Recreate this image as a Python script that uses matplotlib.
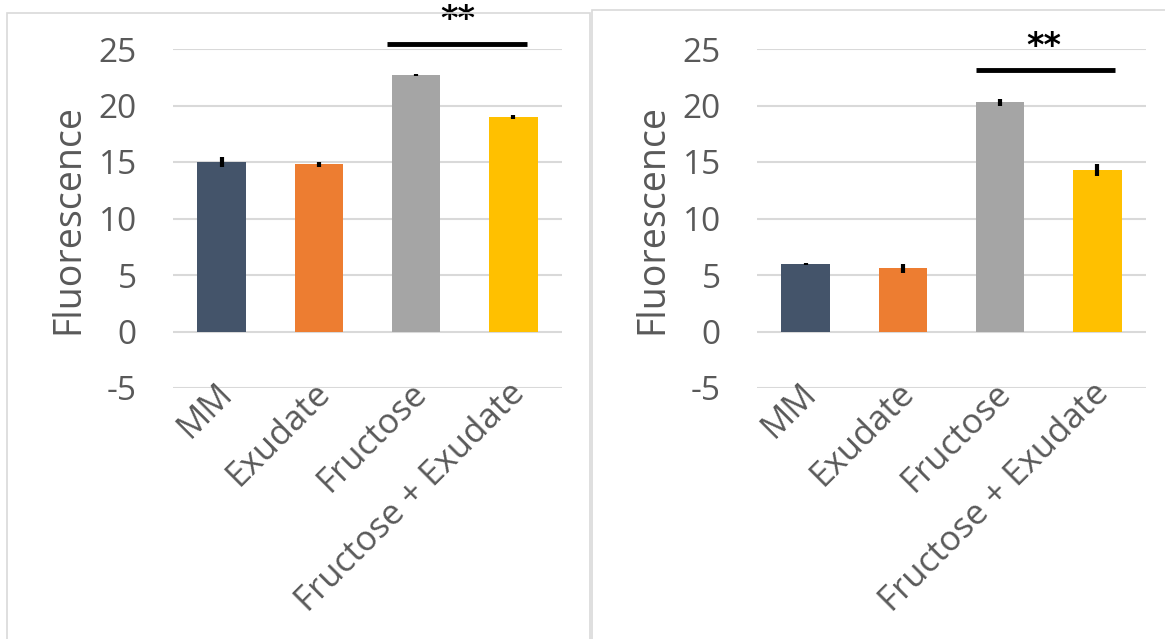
import matplotlib.pyplot as plt
from matplotlib.patches import Rectangle
from matplotlib.transforms import ScaledTranslation

plt.rcParams['font.family'] = ['Open Sans', 'DejaVu Sans']
plt.rcParams['axes.unicode_minus'] = False

categories = ["MM", "Exudate", "Fructose", "Fructose + Exudate"]
colors = ["#44546a", "#ed7d31", "#a5a5a5", "#ffc000"]

left_means = [15.0, 14.8, 22.7, 19.0]
left_err = [0.45, 0.2, 0.08, 0.2]

right_means = [6.0, 5.6, 20.3, 14.3]
right_err = [0.1, 0.4, 0.3, 0.5]

# significance bar: (x start, x end, y), star position (x, y)
left_sig = (1.7, 3.14, 25.4, 2.43, 27.6)
right_sig = (1.75, 3.18, 23.1, 2.45, 25.2)

text_color = "#595959"
grid_color = "#d9d9d9"

fig = plt.figure(figsize=(11.65, 6.39), dpi=100)

# light frames around each chart
fig.patches.append(Rectangle((7 / 1165, -0.1), 583 / 1165, 1.1 - 13 / 639,
                             transform=fig.transFigure, fill=False,
                             edgecolor=grid_color, lw=1.2))
fig.patches.append(Rectangle((592 / 1165, -0.1), 0.6, 1.1 - 10 / 639,
                             transform=fig.transFigure, fill=False,
                             edgecolor=grid_color, lw=1.2))


def draw_panel(rect, means, errs, sig):
    ax = fig.add_axes(rect)
    x = range(len(categories))
    ax.bar(x, means, width=0.5, color=colors, zorder=2)
    ax.errorbar(x, means, yerr=errs, fmt="none", ecolor="black",
                elinewidth=3, capsize=0, zorder=3)
    ax.set_xlim(-0.5, 3.5)
    ax.set_ylim(-5, 25)
    ax.set_yticks([-5, 0, 5, 10, 15, 20, 25])
    for yv in [-5, 0, 5, 10, 15, 20, 25]:
        ax.axhline(yv, color=grid_color, lw=1.5, zorder=1)
    for s in ax.spines.values():
        s.set_visible(False)
    ax.tick_params(axis="both", length=0, colors=text_color)
    ax.tick_params(axis="y", pad=26, labelsize=24)
    ax.set_xticks(list(x))
    ax.set_xticklabels(categories, rotation=45, ha="right", va="center",
                       rotation_mode="anchor", fontsize=25)
    ax.tick_params(axis="x", pad=0)
    shift = ScaledTranslation(6 / 100, 0, fig.dpi_scale_trans)
    for lbl in ax.get_xticklabels():
        lbl.set_transform(lbl.get_transform() + shift)
    ax.set_ylabel("Fluorescence", fontsize=27, color=text_color, labelpad=8)
    x0, x1, ys, xs, yt = sig
    ax.plot([x0, x1], [ys, ys], color="black", lw=3.5, clip_on=False,
            solid_capstyle="butt")
    ax.text(xs, yt, "**", ha="center", va="center", fontsize=24,
            fontweight="bold", color="black", clip_on=False,
            family="DejaVu Sans")
    return ax


draw_panel([173 / 1165, 1 - 388 / 639, 389 / 1165, 339 / 639],
           left_means, left_err, left_sig)
draw_panel([757 / 1165, 1 - 388 / 639, 389 / 1165, 339 / 639],
           right_means, right_err, right_sig)

fig.savefig("out.png", dpi=100)
